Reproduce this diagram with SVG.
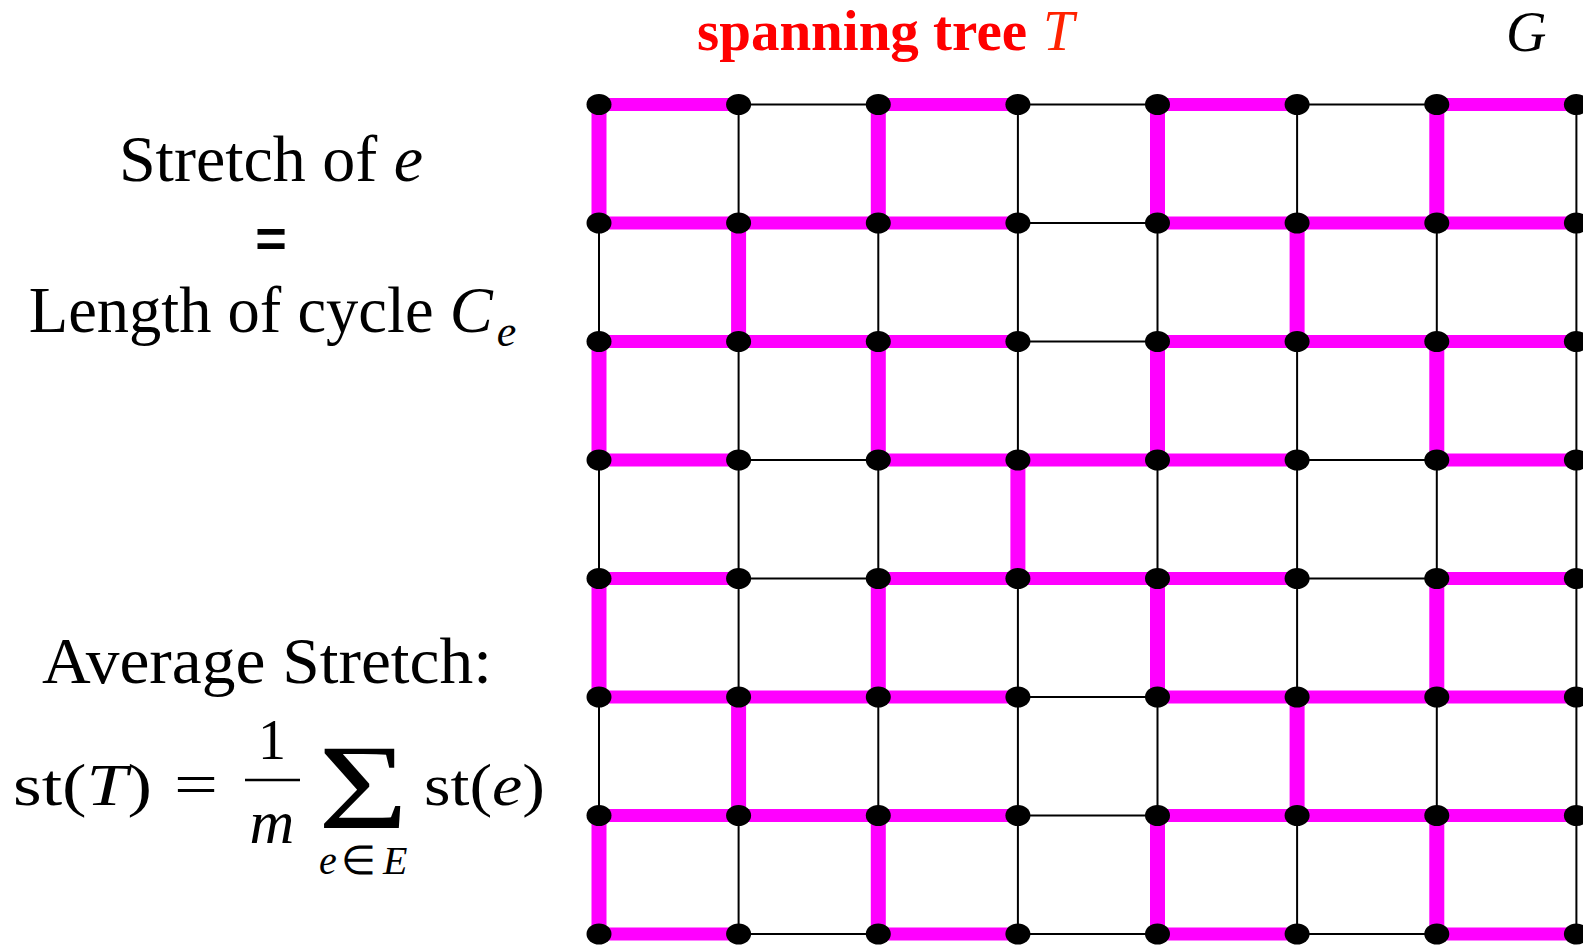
<svg xmlns="http://www.w3.org/2000/svg" width="1583" height="945" viewBox="0 0 1583 945">
<style>
.g{stroke:#000;stroke-width:2;fill:none}
.th{stroke:#FF00FF;stroke-width:13;fill:none}
.tv{stroke:#FF00FF;stroke-width:15;fill:none}
.n{fill:#000}
.txt{font-family:"Liberation Serif","Times New Roman",serif;fill:#000}
.it{font-style:italic}
</style>
<defs><ellipse id="nd" rx="12.5" ry="10.5" class="n"/></defs>
<rect width="1583" height="945" fill="#fff"/>
<g id="labels">
<text class="txt" x="697" y="50" font-size="56" font-weight="bold" style="fill:#FF0000" textLength="330" lengthAdjust="spacingAndGlyphs">spanning tree</text>
<text class="txt it" x="1043" y="50" font-size="56" style="fill:#FF2200">T</text>
<text class="txt it" x="1506" y="51" font-size="56">G</text>
<text class="txt" x="271" y="181" font-size="66" text-anchor="middle">Stretch of <tspan class="it">e</tspan></text>
<text x="271" y="257" font-size="54" font-weight="bold" font-family="Liberation Sans, Arial, sans-serif" text-anchor="middle" fill="#000">=</text>
<text class="txt" x="272.5" y="332" font-size="64.5" text-anchor="middle">Length of cycle <tspan class="it">C</tspan><tspan class="it" font-size="44" dx="4" dy="14">e</tspan></text>
<text class="txt" x="267" y="683" font-size="66" text-anchor="middle" textLength="450" lengthAdjust="spacingAndGlyphs">Average Stretch:</text>
</g>
<g id="formula">
<text class="txt" x="13" y="805" font-size="60" textLength="139" lengthAdjust="spacingAndGlyphs">st(<tspan class="it">T</tspan>)</text>
<text class="txt" x="174" y="804" font-size="60" textLength="44" lengthAdjust="spacingAndGlyphs">=</text>
<text class="txt" x="272" y="759" font-size="56" text-anchor="middle">1</text>
<line x1="245" y1="780" x2="300" y2="780" stroke="#000" stroke-width="2.5"/>
<text class="txt it" x="272" y="843" font-size="62" text-anchor="middle">m</text>
<text class="txt" x="318" y="828" font-size="120" font-weight="300" textLength="90" lengthAdjust="spacingAndGlyphs">Σ</text>
<text class="txt it" x="319" y="874" font-size="40">e</text>
<text class="txt" x="358" y="874" font-size="40" text-anchor="middle">∈</text>
<text class="txt it" x="383" y="874" font-size="40">E</text>
<text class="txt" x="424" y="805" font-size="60" textLength="121" lengthAdjust="spacingAndGlyphs">st(<tspan class="it">e</tspan>)</text>
</g>
<g id="connectors">
<path class="g" d="M599 104.5H1576.4M599 223H1576.4M599 341.5H1576.4M599 460H1576.4M599 578.5H1576.4M599 697H1576.4M599 815.5H1576.4M599 934H1576.4
M599 104.5V934M738.6 104.5V934M878.3 104.5V934M1017.9 104.5V934M1157.5 104.5V934M1297.1 104.5V934M1436.8 104.5V934M1576.4 104.5V934"/>
<path class="th" d="M599 104.5H738.6M878.3 104.5H1017.9M1157.5 104.5H1297.1M1436.8 104.5H1576.4
M599 223H1017.9M1157.5 223H1576.4
M599 341.5H1017.9M1157.5 341.5H1576.4
M599 460H738.6M878.3 460H1297.1M1436.8 460H1576.4
M599 578.5H738.6M878.3 578.5H1297.1M1436.8 578.5H1576.4
M599 697H1017.9M1157.5 697H1576.4
M599 815.5H1017.9M1157.5 815.5H1576.4
M599 934H738.6M878.3 934H1017.9M1157.5 934H1297.1M1436.8 934H1576.4"/>
<path class="tv" d="M599 104.5V223M599 341.5V460M599 578.5V697M599 815.5V934
M878.3 104.5V223M878.3 341.5V460M878.3 578.5V697M878.3 815.5V934
M1157.5 104.5V223M1157.5 341.5V460M1157.5 578.5V697M1157.5 815.5V934
M1436.8 104.5V223M1436.8 341.5V460M1436.8 578.5V697M1436.8 815.5V934
M738.6 223V341.5M738.6 697V815.5M1297.1 223V341.5M1297.1 697V815.5
M1017.9 460V578.5"/>
</g>
<g id="nodes">
<g id="n00"><use href="#nd" x="599" y="104.5"/></g><g id="n01"><use href="#nd" x="738.6" y="104.5"/></g><g id="n02"><use href="#nd" x="878.3" y="104.5"/></g><g id="n03"><use href="#nd" x="1017.9" y="104.5"/></g><g id="n04"><use href="#nd" x="1157.5" y="104.5"/></g><g id="n05"><use href="#nd" x="1297.1" y="104.5"/></g><g id="n06"><use href="#nd" x="1436.8" y="104.5"/></g><g id="n07"><use href="#nd" x="1576.4" y="104.5"/></g>
<g id="n10"><use href="#nd" x="599" y="223"/></g><g id="n11"><use href="#nd" x="738.6" y="223"/></g><g id="n12"><use href="#nd" x="878.3" y="223"/></g><g id="n13"><use href="#nd" x="1017.9" y="223"/></g><g id="n14"><use href="#nd" x="1157.5" y="223"/></g><g id="n15"><use href="#nd" x="1297.1" y="223"/></g><g id="n16"><use href="#nd" x="1436.8" y="223"/></g><g id="n17"><use href="#nd" x="1576.4" y="223"/></g>
<g id="n20"><use href="#nd" x="599" y="341.5"/></g><g id="n21"><use href="#nd" x="738.6" y="341.5"/></g><g id="n22"><use href="#nd" x="878.3" y="341.5"/></g><g id="n23"><use href="#nd" x="1017.9" y="341.5"/></g><g id="n24"><use href="#nd" x="1157.5" y="341.5"/></g><g id="n25"><use href="#nd" x="1297.1" y="341.5"/></g><g id="n26"><use href="#nd" x="1436.8" y="341.5"/></g><g id="n27"><use href="#nd" x="1576.4" y="341.5"/></g>
<g id="n30"><use href="#nd" x="599" y="460"/></g><g id="n31"><use href="#nd" x="738.6" y="460"/></g><g id="n32"><use href="#nd" x="878.3" y="460"/></g><g id="n33"><use href="#nd" x="1017.9" y="460"/></g><g id="n34"><use href="#nd" x="1157.5" y="460"/></g><g id="n35"><use href="#nd" x="1297.1" y="460"/></g><g id="n36"><use href="#nd" x="1436.8" y="460"/></g><g id="n37"><use href="#nd" x="1576.4" y="460"/></g>
<g id="n40"><use href="#nd" x="599" y="578.5"/></g><g id="n41"><use href="#nd" x="738.6" y="578.5"/></g><g id="n42"><use href="#nd" x="878.3" y="578.5"/></g><g id="n43"><use href="#nd" x="1017.9" y="578.5"/></g><g id="n44"><use href="#nd" x="1157.5" y="578.5"/></g><g id="n45"><use href="#nd" x="1297.1" y="578.5"/></g><g id="n46"><use href="#nd" x="1436.8" y="578.5"/></g><g id="n47"><use href="#nd" x="1576.4" y="578.5"/></g>
<g id="n50"><use href="#nd" x="599" y="697"/></g><g id="n51"><use href="#nd" x="738.6" y="697"/></g><g id="n52"><use href="#nd" x="878.3" y="697"/></g><g id="n53"><use href="#nd" x="1017.9" y="697"/></g><g id="n54"><use href="#nd" x="1157.5" y="697"/></g><g id="n55"><use href="#nd" x="1297.1" y="697"/></g><g id="n56"><use href="#nd" x="1436.8" y="697"/></g><g id="n57"><use href="#nd" x="1576.4" y="697"/></g>
<g id="n60"><use href="#nd" x="599" y="815.5"/></g><g id="n61"><use href="#nd" x="738.6" y="815.5"/></g><g id="n62"><use href="#nd" x="878.3" y="815.5"/></g><g id="n63"><use href="#nd" x="1017.9" y="815.5"/></g><g id="n64"><use href="#nd" x="1157.5" y="815.5"/></g><g id="n65"><use href="#nd" x="1297.1" y="815.5"/></g><g id="n66"><use href="#nd" x="1436.8" y="815.5"/></g><g id="n67"><use href="#nd" x="1576.4" y="815.5"/></g>
<g id="n70"><use href="#nd" x="599" y="934"/></g><g id="n71"><use href="#nd" x="738.6" y="934"/></g><g id="n72"><use href="#nd" x="878.3" y="934"/></g><g id="n73"><use href="#nd" x="1017.9" y="934"/></g><g id="n74"><use href="#nd" x="1157.5" y="934"/></g><g id="n75"><use href="#nd" x="1297.1" y="934"/></g><g id="n76"><use href="#nd" x="1436.8" y="934"/></g><g id="n77"><use href="#nd" x="1576.4" y="934"/></g>
</g>
</svg>
